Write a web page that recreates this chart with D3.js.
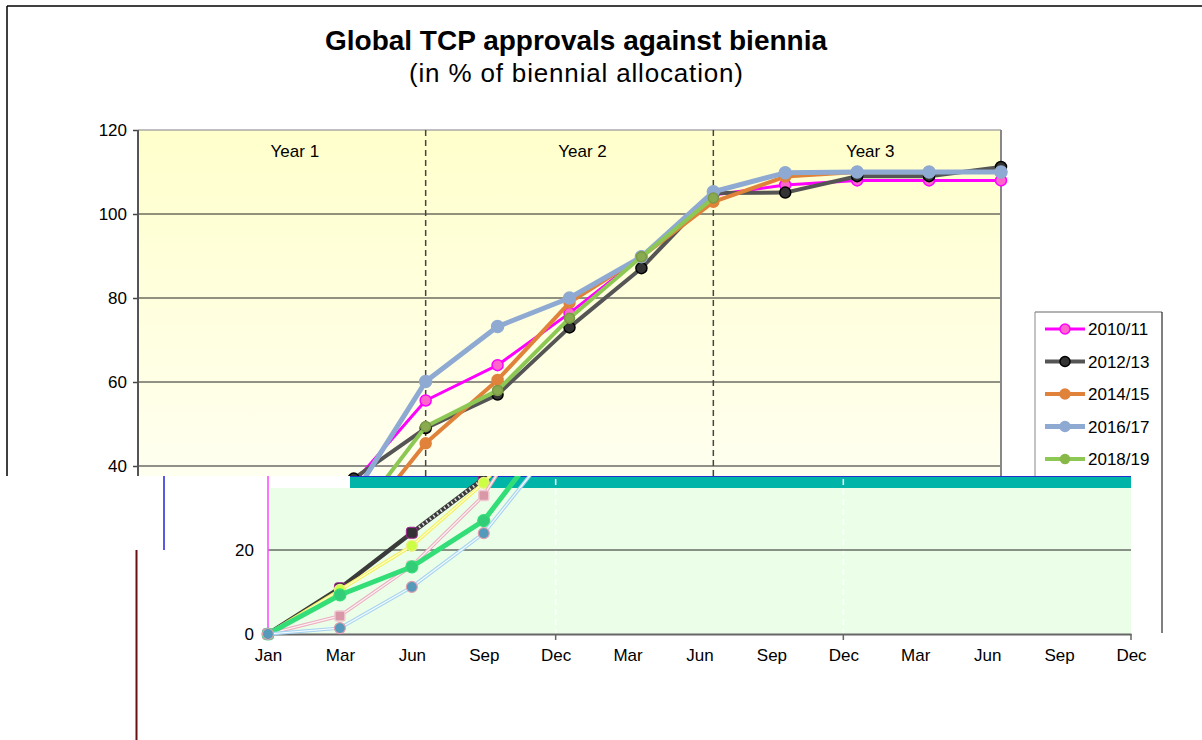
<!DOCTYPE html>
<html>
<head>
<meta charset="utf-8">
<script src="https://cdn.jsdelivr.net/npm/d3@7"></script>
<style>
  body { margin: 0; background: #fff; }
  svg { display: block; font-family: "Liberation Sans", Arial, sans-serif; }
</style>
</head>
<body>
<svg id="chart" width="1202" height="740"></svg>
<script>
// data (index 0 = Jan of year 1, one step = one quarter)
const months = ["Jan","Mar","Jun","Sep","Dec","Mar","Jun","Sep","Dec","Mar","Jun","Sep","Dec"];
const years = ["Year 1","Year 2","Year 3"];
const bienniaNames = ["2010/11","2012/13","2014/15","2016/17","2018/19"];
const s2010 = [0, 10.5, 21, 36, 55.6, 64, 76.4, 89.8, 104.5, 106.9, 108, 108, 108];
const s2012 = [0, 10.9, 24.1, 37, 49, 57, 73, 87.1, 105, 105.1, 109, 109, 111.2];
const s2014 = [0, 1.4, 11.2, 24, 45.4, 60.5, 78.9, 89.8, 102.9, 108.9, 110, 110, 110];
const s2016 = [0, 4.3, 16.2, 33, 60.1, 73.2, 80, 89.8, 105.3, 109.8, 110, 110, 110];
const s2018 = [0, 9.3, 16, 27, 49.4, 58, 75.2, 89.8, 103.8, null, null, null, null];
const yTicksTop = [40, 60, 80, 100, 120];
const yTicksBottom = [0, 20];
const dividers = [4, 8];

const svg = d3.select("#chart");
const defs = svg.append("defs");

const x = d3.scaleLinear().domain([0, 12]).range([138, 1001]);
const xb = d3.scaleLinear().domain([0, 12]).range([268, 1131]); // the lower strip sits 130px to the right
const y = d3.scaleLinear().domain([0, 120]).range([634, 130]);
const cut = 476; // where the upper picture stops

defs.append("clipPath").attr("id", "clipTop")
  .append("rect").attr("x", 0).attr("y", 0).attr("width", 1202).attr("height", cut);
defs.append("clipPath").attr("id", "clipBot")
  .append("rect").attr("x", 0).attr("y", cut).attr("width", 1202).attr("height", 740 - cut);

const grad = defs.append("linearGradient").attr("id", "bgTop")
  .attr("x1", 0).attr("y1", 0).attr("x2", 0).attr("y2", 1);
grad.append("stop").attr("offset", "0%").attr("stop-color", "#ffffcc");
grad.append("stop").attr("offset", "100%").attr("stop-color", "#fffff0");

// outer frame (top and left only)
svg.append("line").attr("x1", 7).attr("x2", 1202).attr("y1", 6).attr("y2", 6)
  .attr("stroke", "#000").attr("stroke-width", 1.5);
svg.append("line").attr("x1", 7).attr("x2", 7).attr("y1", 6).attr("y2", cut)
  .attr("stroke", "#000").attr("stroke-width", 1.5);

// titles
svg.append("text").attr("x", 576).attr("y", 50).attr("text-anchor", "middle")
  .attr("font-size", 28).attr("font-weight", "bold").text("Global TCP approvals against biennia");
svg.append("text").attr("x", 576).attr("y", 82).attr("text-anchor", "middle")
  .attr("font-size", 26).attr("textLength", 334).text("(in % of biennial allocation)");

// ---------- upper part ----------
const upper = svg.append("g").attr("clip-path", "url(#clipTop)");

upper.append("rect").attr("x", x(0)).attr("y", y(120))
  .attr("width", x(12) - x(0)).attr("height", cut - y(120)).attr("fill", "url(#bgTop)");

upper.selectAll("line.grid").data(yTicksTop.slice(0, -1)).join("line")
  .attr("class", "grid")
  .attr("x1", x(0)).attr("x2", x(12)).attr("y1", d => y(d)).attr("y2", d => y(d))
  .attr("stroke", "#222").attr("stroke-width", 1);
upper.append("line").attr("x1", x(0)).attr("x2", x(12)).attr("y1", y(120)).attr("y2", y(120))
  .attr("stroke", "#aaa").attr("stroke-width", 1.5);
upper.append("line").attr("x1", x(12)).attr("x2", x(12)).attr("y1", y(120)).attr("y2", cut)
  .attr("stroke", "#888").attr("stroke-width", 2);

upper.selectAll("line.div").data(dividers).join("line")
  .attr("class", "div")
  .attr("x1", d => x(d)).attr("x2", d => x(d)).attr("y1", y(120)).attr("y2", cut)
  .attr("stroke", "#444").attr("stroke-width", 1.5).attr("stroke-dasharray", "6,4");

upper.selectAll("text.year").data(years).join("text")
  .attr("class", "year")
  .attr("x", (d, i) => x(i * 4 + 2) + 13).attr("y", 157)
  .attr("text-anchor", "middle").attr("font-size", 17).text(d => d);

const yAxisTop = d3.axisLeft(y).tickValues(yTicksTop).tickSize(5).tickPadding(6);
const gyt = upper.append("g").attr("transform", `translate(${x(0)},0)`).call(yAxisTop);
gyt.select(".domain").remove();
gyt.selectAll(".tick line").attr("stroke", "#444").attr("stroke-width", 1.5);
gyt.selectAll(".tick text").attr("font-size", 17).attr("fill", "#000")
  .attr("font-family", "Liberation Sans, Arial, sans-serif");
upper.append("line").attr("x1", x(0)).attr("x2", x(0)).attr("y1", y(120)).attr("y2", cut)
  .attr("stroke", "#555").attr("stroke-width", 2);

const topStyles = [
  { data: s2010, line: "#ff00ff", w: 3, fill: "#ff66cc", stroke: "#ff00ff", r: 5.5 },
  { data: s2012, line: "#555555", w: 4, fill: "#333333", stroke: "#000000", r: 5.5 },
  { data: s2014, line: "#e0823a", w: 4, fill: "#e0823a", stroke: "#e0823a", r: 5.5 },
  { data: s2016, line: "#8faad2", w: 5, fill: "#8faad2", stroke: "#8faad2", r: 6 },
  { data: s2018, line: "#8dc855", w: 4, fill: "#8aaa50", stroke: "#7a9a45", r: 5 }
];

const lineTop = d3.line().defined(d => d != null).x((d, i) => x(i)).y(d => y(d));
topStyles.forEach(s => {
  upper.append("path").datum(s.data).attr("d", lineTop)
    .attr("fill", "none").attr("stroke", s.line).attr("stroke-width", s.w)
    .attr("stroke-linejoin", "round");
  upper.selectAll(null).data(s.data.map((v, i) => [i, v]).filter(p => p[1] != null)).join("circle")
    .attr("cx", p => x(p[0])).attr("cy", p => y(p[1])).attr("r", s.r)
    .attr("fill", s.fill).attr("stroke", s.stroke).attr("stroke-width", 1.5);
});

// legend
const lg = svg.append("g");
lg.append("line").attr("x1", 1035).attr("x2", 1162).attr("y1", 312).attr("y2", 312).attr("stroke", "#666");
lg.append("line").attr("x1", 1035).attr("x2", 1035).attr("y1", 312).attr("y2", cut).attr("stroke", "#888");
lg.append("line").attr("x1", 1162).attr("x2", 1162).attr("y1", 312).attr("y2", 633).attr("stroke", "#000");
bienniaNames.forEach((name, i) => {
  const s = topStyles[i];
  const cy = 329 + i * 32.5;
  lg.append("line").attr("x1", 1045).attr("x2", 1085).attr("y1", cy).attr("y2", cy)
    .attr("stroke", s.line).attr("stroke-width", s.w);
  lg.append("circle").attr("cx", 1065).attr("cy", cy).attr("r", i === 4 ? 4.5 : 5)
    .attr("fill", i === 4 ? "#88b848" : s.fill).attr("stroke", i === 4 ? "#88b848" : s.stroke).attr("stroke-width", 1.5);
  lg.append("text").attr("x", 1088).attr("y", cy + 6).attr("font-size", 17).text(name);
});

// ---------- lower part (shifted strip) ----------
const lower = svg.append("g").attr("clip-path", "url(#clipBot)");

lower.append("rect").attr("x", 270).attr("y", 488).attr("width", 1131 - 270).attr("height", y(0) - 488)
  .attr("fill", "#ebffe8");
lower.append("rect").attr("x", 350).attr("y", cut).attr("width", 1131 - 350).attr("height", 12)
  .attr("fill", "#00b4a8");
lower.append("line").attr("x1", 350).attr("x2", 1131).attr("y1", cut + 0.5).attr("y2", cut + 0.5)
  .attr("stroke", "#2233cc").attr("stroke-width", 1);

lower.selectAll("line.vd").data(dividers).join("line")
  .attr("class", "vd")
  .attr("x1", d => xb(d)).attr("x2", d => xb(d)).attr("y1", cut + 3).attr("y2", y(0))
  .attr("stroke", "#fff").attr("stroke-width", 1.5).attr("stroke-dasharray", "6,4");

lower.append("line").attr("x1", xb(0)).attr("x2", xb(12)).attr("y1", y(20)).attr("y2", y(20))
  .attr("stroke", "#222").attr("stroke-width", 1);

// stray vertical strokes on the left
lower.append("line").attr("x1", 268).attr("x2", 268).attr("y1", cut).attr("y2", y(0))
  .attr("stroke", "#ff44ff").attr("stroke-width", 1.5);
lower.append("line").attr("x1", 164).attr("x2", 164).attr("y1", cut).attr("y2", y(20))
  .attr("stroke", "#2222dd").attr("stroke-width", 1.5);
lower.append("line").attr("x1", 136.5).attr("x2", 136.5).attr("y1", y(20)).attr("y2", 740)
  .attr("stroke", "#6a1010").attr("stroke-width", 2);

const yAxisBot = d3.axisLeft(y).tickValues(yTicksBottom).tickSize(0).tickPadding(14);
const gyb = lower.append("g").attr("transform", `translate(${xb(0)},0)`).call(yAxisBot);
gyb.select(".domain").remove();
gyb.selectAll(".tick text").attr("font-size", 17).attr("fill", "#000")
  .attr("font-family", "Liberation Sans, Arial, sans-serif");

const xAxisBot = d3.axisBottom(xb).tickValues(d3.range(13)).tickFormat(i => months[i])
  .tickSize(0).tickPadding(15);
const gxb = lower.append("g").attr("transform", `translate(0,${y(0)})`).call(xAxisBot);
gxb.select(".domain").attr("stroke", "#666").attr("stroke-width", 2);
gxb.selectAll(".tick text").attr("font-size", 17).attr("fill", "#000")
  .attr("font-family", "Liberation Sans, Arial, sans-serif");
lower.selectAll("line.xt").data([4, 8, 12]).join("line")
  .attr("class", "xt")
  .attr("x1", d => xb(d)).attr("x2", d => xb(d)).attr("y1", y(0)).attr("y2", y(0) + 6)
  .attr("stroke", "#666").attr("stroke-width", 1.5);

const lineBot = d3.line().defined(d => d != null).x((d, i) => xb(i)).y(d => y(d));

function thinPair(data, outer, inner) {
  lower.append("path").datum(data).attr("d", lineBot).attr("fill", "none")
    .attr("stroke", outer).attr("stroke-width", 3.5);
  lower.append("path").datum(data).attr("d", lineBot).attr("fill", "none")
    .attr("stroke", inner).attr("stroke-width", 1.2);
}
function dots(data, fill, stroke, r) {
  lower.selectAll(null).data(data.map((v, i) => [i, v]).filter(p => p[1] != null)).join("circle")
    .attr("cx", p => xb(p[0])).attr("cy", p => y(p[1])).attr("r", r)
    .attr("fill", fill).attr("stroke", stroke).attr("stroke-width", 1.2);
}

// 2012/13 dark line with hatched piece
lower.append("path").datum(s2012).attr("d", lineBot).attr("fill", "none")
  .attr("stroke", "#3a3a3a").attr("stroke-width", 4.5);
lower.append("line").attr("x1", xb(2)).attr("y1", y(s2012[2])).attr("x2", xb(3)).attr("y2", y(s2012[3]))
  .attr("stroke", "#ddd").attr("stroke-width", 3).attr("stroke-dasharray", "1.5,3");
lower.selectAll(null).data(s2012.map((v, i) => [i, v])).join("rect")
  .attr("x", p => xb(p[0]) - 5.5).attr("y", p => y(p[1]) - 5.5).attr("width", 11).attr("height", 11)
  .attr("rx", 3).attr("fill", "#333").attr("stroke", "#aa2299").attr("stroke-width", 1);

// 2010/11 shows as thin yellow
thinPair(s2010, "#f4f060", "#ffffd0");
dots(s2010, "#ccff44", "#eeee88", 5.5);

// 2016/17 shows as pink with squares
thinPair(s2016, "#eab0c0", "#fff4f6");
lower.selectAll(null).data(s2016.map((v, i) => [i, v])).join("rect")
  .attr("x", p => xb(p[0]) - 5).attr("y", p => y(p[1]) - 5).attr("width", 10).attr("height", 10)
  .attr("rx", 2).attr("fill", "#d898a8").attr("stroke", "#f0c8d0").attr("stroke-width", 1.5);

// 2018/19 shows as thick green
lower.append("path").datum(s2018).attr("d", lineBot).attr("fill", "none")
  .attr("stroke", "#33dd77").attr("stroke-width", 5);
dots(s2018, "#33cc77", "#33dd77", 6);

// 2014/15 shows as thin blue
thinPair(s2014, "#a8d4f0", "#f4fbff");
dots(s2014, "#5599bb", "#e0a0b0", 5.5);
</script>
</body>
</html>
